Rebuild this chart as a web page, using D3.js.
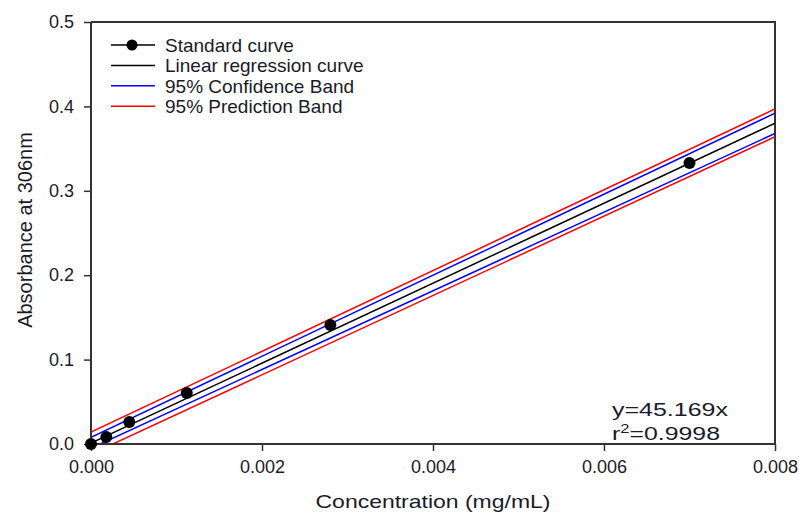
<!DOCTYPE html>
<html>
<head>
<meta charset="utf-8">
<script src="https://cdn.jsdelivr.net/npm/d3@7"></script>
<style>
  body { margin: 0; background: #fff; }
  text { font-family: "Liberation Sans", Arial, sans-serif; }
</style>
</head>
<body>
<script>
// standard curve points
const conc = [0, 0.0001792, 0.000448, 0.00112, 0.0028, 0.007];
const absorb = [0, 0.0083, 0.026, 0.0604, 0.141, 0.333];

// band / regression lines, read at x = 0 and x = 0.008
const lineX = [0, 0.008];
const fitY = [0.001, 0.380];
const confUpper = [0.008, 0.392];
const confLower = [-0.005, 0.368];
const predUpper = [0.014, 0.397];
const predLower = [-0.012, 0.364];

const xTicks = [0, 0.002, 0.004, 0.006, 0.008];
const yTicks = [0, 0.1, 0.2, 0.3, 0.4, 0.5];

const legendItems = [
  { name: "Standard curve", color: "#000", marker: true },
  { name: "Linear regression curve", color: "#000", marker: false },
  { name: "95% Confidence Band", color: "#0000ff", marker: false },
  { name: "95% Prediction Band", color: "#ff0000", marker: false }
];

const width = 799, height = 512;
const margin = { left: 91, right: 24, top: 22, bottom: 68 };
const textColor = "#1a1a2a";

const svg = d3.select("body").append("svg")
  .attr("width", width)
  .attr("height", height);

const x = d3.scaleLinear().domain([0, 0.008]).range([margin.left, width - margin.right]);
const y = d3.scaleLinear().domain([0, 0.5]).range([height - margin.bottom, margin.top]);

svg.append("defs").append("clipPath").attr("id", "plot")
  .append("rect")
  .attr("x", x(0)).attr("y", y(0.5))
  .attr("width", x(0.008) - x(0)).attr("height", y(0) - y(0.5));

// frame top / right
svg.append("path")
  .attr("d", `M${x(0)},${y(0.5)}H${x(0.008)}V${y(0)}`)
  .attr("fill", "none").attr("stroke", "#333").attr("stroke-width", 2);

// lines
const lineGen = d3.line().x(d => x(d[0])).y(d => y(d[1]));
const g = svg.append("g").attr("clip-path", "url(#plot)");
const series = [
  { vals: predUpper, color: "#ff0000" },
  { vals: predLower, color: "#ff0000" },
  { vals: confUpper, color: "#0000ff" },
  { vals: confLower, color: "#0000ff" },
  { vals: fitY, color: "#000" }
];
series.forEach(s => {
  g.append("path")
    .attr("d", lineGen(lineX.map((v, i) => [v, s.vals[i]])))
    .attr("fill", "none")
    .attr("stroke", s.color)
    .attr("stroke-width", 1.5);
});

// axes
const xAxis = svg.append("g")
  .attr("transform", `translate(0,${y(0)})`)
  .call(d3.axisBottom(x).tickValues(xTicks).tickFormat(d3.format(".3f")).tickSize(7).tickPadding(9));
const yAxis = svg.append("g")
  .attr("transform", `translate(${x(0)},0)`)
  .call(d3.axisLeft(y).tickValues(yTicks).tickFormat(d3.format(".1f")).tickSize(7).tickPadding(10));
[xAxis, yAxis].forEach(a => {
  a.select(".domain").attr("stroke", "#333").attr("stroke-width", 2);
  a.selectAll(".tick line").attr("stroke", "#333").attr("stroke-width", 1.5);
  a.selectAll(".tick text").attr("fill", textColor)
    .style("font-family", "'Liberation Sans', Arial, sans-serif").style("font-size", "18px");
});
xAxis.select(".domain").attr("d", `M${x(0)},0H${x(0.008)}`);
yAxis.select(".domain").attr("d", `M0,${y(0)}V${y(0.5)}`);

// points
svg.append("g").selectAll("circle")
  .data(conc.map((c, i) => [c, absorb[i]]))
  .join("circle")
  .attr("cx", d => x(d[0]))
  .attr("cy", d => y(d[1]))
  .attr("r", 6)
  .attr("fill", "#000");

// legend
const leg = svg.append("g").attr("transform", "translate(111,45)");
legendItems.forEach((d, i) => {
  const row = leg.append("g").attr("transform", `translate(0,${i * 20.4})`);
  row.append("line").attr("x1", 0).attr("x2", 44).attr("y1", 0).attr("y2", 0)
    .attr("stroke", d.color).attr("stroke-width", 1.5);
  if (d.marker) row.append("circle").attr("cx", 21).attr("cy", 0).attr("r", 5.5).attr("fill", "#000");
  row.append("text").attr("x", 54).attr("y", 7)
    .attr("fill", textColor).style("font-size", "19px").text(d.name);
});

// equation
svg.append("text").attr("x", 612).attr("y", 416).attr("fill", textColor)
  .attr("textLength", 116).attr("lengthAdjust", "spacingAndGlyphs")
  .style("font-size", "18px").text("y=45.169x");
svg.append("text").attr("x", 612).attr("y", 440).attr("fill", textColor)
  .attr("textLength", 108).attr("lengthAdjust", "spacingAndGlyphs")
  .style("font-size", "18px")
  .html('r<tspan dy="-7" font-size="12">2</tspan><tspan dy="7">=0.9998</tspan>');

// axis titles
svg.append("text")
  .attr("x", 433).attr("y", 508)
  .attr("text-anchor", "middle").attr("fill", textColor)
  .attr("textLength", 235).attr("lengthAdjust", "spacingAndGlyphs")
  .style("font-size", "18.5px").text("Concentration (mg/mL)");
svg.append("text")
  .attr("transform", `translate(32,230) rotate(-90)`)
  .attr("text-anchor", "middle").attr("fill", textColor)
  .style("font-size", "20px").text("Absorbance at 306nm");
</script>
</body>
</html>
